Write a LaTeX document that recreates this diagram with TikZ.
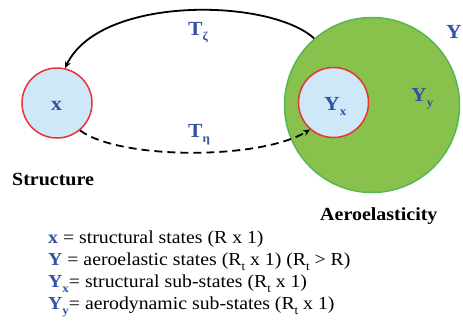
\documentclass[tikz,border=0pt]{standalone}
\usepackage{fontspec}
\setmainfont{Liberation Serif}[FakeStretch=1.08]
\usetikzlibrary{arrows.meta}
\definecolor{lblue}{RGB}{206,232,248}
\definecolor{rring}{RGB}{232,52,52}
\definecolor{gfill}{RGB}{136,194,76}
\definecolor{gring}{RGB}{88,182,84}
\definecolor{tblue}{RGB}{52,82,162}
\newcommand\mysub[1]{\smash{\raisebox{-0.28em}{\fontsize{12}{12}\selectfont #1}}}
\tikzset{
  inner/.style={circle, draw=rring, fill=lblue, line width=1.5pt, minimum size=70pt, inner sep=0pt},
  outer/.style={circle, draw=gring, fill=gfill, line width=1.5pt, minimum size=175pt, inner sep=0pt},
  lab/.style={text=tblue, font=\fontsize{20}{20}\selectfont\bfseries, anchor=base west, inner sep=0pt},
  captxt/.style={font=\fontsize{18.5}{18.5}\selectfont\bfseries, anchor=base west, inner sep=0pt},
  leg/.style={font=\fontsize{18.3}{18.3}\selectfont, anchor=base west, inner sep=0pt},
  conn/.style={line width=1.8pt, -{Stealth[length=7pt,width=6pt]}},
}
\begin{document}
\begin{tikzpicture}[x=1pt,y=-1pt]
\useasboundingbox (0,0) rectangle (463,322);
\node[outer] (Y) at (372,105) {};
\node[inner] (X) at (57,103) {};
\node[inner] (YX) at (333.5,102.5) {};
\node[lab] (lx) at (51,110) {x};
\node[lab] (lyx) at (324,110) {Y\mysub{x}};
\node[lab] (lyy) at (411,101) {Y\mysub{y}};
\node[lab] (ly) at (446,38) {Y};
\node[lab] (tz) at (188,35) {T\mysub{ζ}};
\node[lab] (te) at (188,137) {T\mysub{η}};
\draw[conn] (Y.131) .. controls (270,-2) and (100,-5) .. (X.77);
\draw[conn, dash pattern=on 8pt off 5pt] (X.-50) .. controls (120,160) and (260,160) .. (YX.-131);
\node[captxt] (s) at (12,185) {Structure};
\node[captxt] (a) at (320,220) {Aeroelasticity};
\node[leg] (l1) at (48,243) {\textcolor{tblue}{\bfseries x} = structural states (R x 1)};
\node[leg] (l2) at (48,265) {\textcolor{tblue}{\bfseries Y} = aeroelastic states (R\mysub{t} x 1) (R\mysub{t} > R)};
\node[leg] (l3) at (48,287) {\textcolor{tblue}{\bfseries Y\mysub{x}}= structural sub-states (R\mysub{t} x 1)};
\node[leg] (l4) at (48,309) {\textcolor{tblue}{\bfseries Y\mysub{y}}= aerodynamic sub-states (R\mysub{t} x 1)};
\end{tikzpicture}
\end{document}
